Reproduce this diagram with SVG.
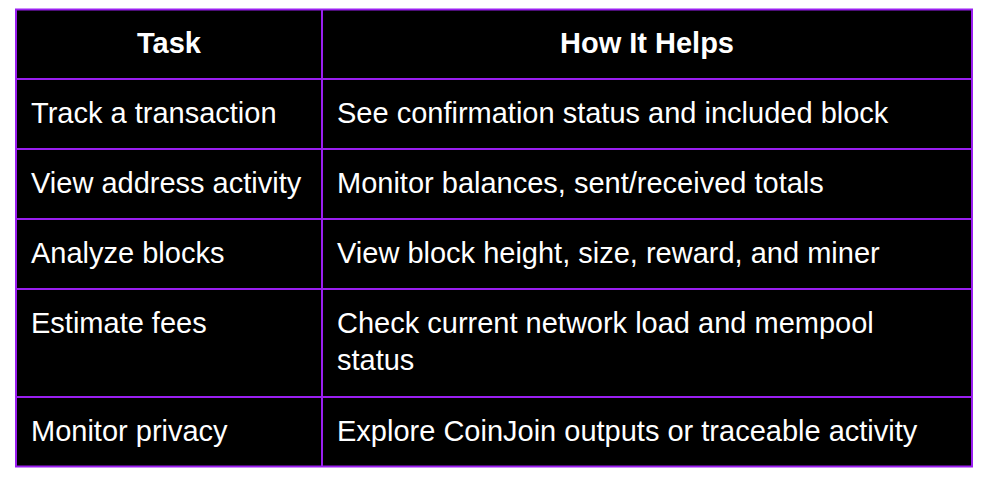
<svg xmlns="http://www.w3.org/2000/svg" width="988" height="482" viewBox="0 0 988 482">
<style>
.t{font-family:"Liberation Sans",Arial,sans-serif;font-size:29px;fill:#fff}
.h{font-weight:bold;text-anchor:middle}
.l{stroke:#9a1ff0;stroke-width:2;fill:none}
</style>
<rect width="988" height="482" fill="#fff"/>
<g id="table">
<rect x="16" y="9.5" width="956" height="457" fill="#000"/>
</g>
<g id="grid">
<rect class="l" x="16" y="9.5" width="956" height="457"/>
<line class="l" x1="322" y1="9.5" x2="322" y2="466.5"/>
<line class="l" x1="16" y1="79" x2="972" y2="79"/>
<line class="l" x1="16" y1="149" x2="972" y2="149"/>
<line class="l" x1="16" y1="219" x2="972" y2="219"/>
<line class="l" x1="16" y1="289" x2="972" y2="289"/>
<line class="l" x1="16" y1="397" x2="972" y2="397"/>
</g>
<g id="header">
<text class="t h" x="169" y="53">Task</text>
<text class="t h" x="647" y="53">How It Helps</text>
</g>
<g id="row1"><text class="t" x="31" y="123">Track a transaction</text><text class="t" x="337" y="123">See confirmation status and included block</text></g>
<g id="row2"><text class="t" x="31" y="193">View address activity</text><text class="t" x="337" y="193">Monitor balances, sent/received totals</text></g>
<g id="row3"><text class="t" x="31" y="263">Analyze blocks</text><text class="t" x="337" y="263">View block height, size, reward, and miner</text></g>
<g id="row4"><text class="t" x="31" y="333">Estimate fees</text><text class="t" x="337" y="333">Check current network load and mempool</text><text class="t" x="337" y="370">status</text></g>
<g id="row5"><text class="t" x="31" y="441">Monitor privacy</text><text class="t" x="337" y="441">Explore CoinJoin outputs or traceable activity</text></g>
</svg>
